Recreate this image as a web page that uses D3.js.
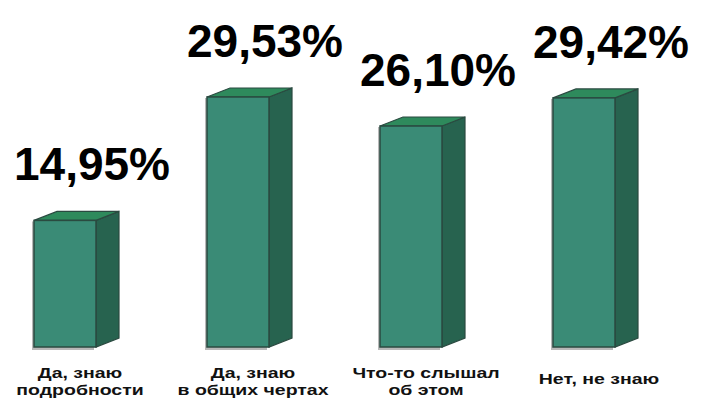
<!DOCTYPE html>
<html lang="ru">
<head>
<meta charset="UTF-8">
<title>Знаете ли вы</title>
<script src="https://d3js.org/d3.v7.min.js"></script>
<style>
  body { margin: 0; background: #fff; }
  svg { display: block; }
  .val { font-family: "Liberation Sans", Arial, sans-serif; font-weight: bold; font-size: 46px; fill: #000; }
  .cat { font-family: "Liberation Sans", Arial, sans-serif; font-weight: bold; font-size: 15px; fill: #111; }
</style>
</head>
<body>
<svg width="702" height="401"></svg>
<script>
// data
const categories = ["Да, знаю|подробности", "Да, знаю|в общих чертах", "Что-то слышал|об этом", "Нет, не знаю"];
const values = [14.95, 29.53, 26.10, 29.42];
const valueLabels = ["14,95%", "29,53%", "26,10%", "29,42%"];

const svg = d3.select("svg");
const barW = 62, dx = 23, dy = 9;

const x = d3.scalePoint().domain(categories).range([65, 584]);
const y = d3.scaleLinear().domain([0, 30]).range([347, 93]);

const data = categories.map((c, i) => ({ cat: c, v: values[i], label: valueLabels[i] }));

const g = svg.append("g");

data.forEach(d => {
  const x0 = x(d.cat) - barW / 2, x1 = x0 + barW;
  const yt = y(d.v), yb = y(0);
  const bar = g.append("g");
  // soft grey shadow
  bar.append("rect").attr("x", x0 - 2).attr("y", yt + 1).attr("width", barW).attr("height", yb - yt + 2)
    .attr("fill", "#b8b8b8");
  // side face
  bar.append("path")
    .attr("d", `M${x1},${yt}L${x1 + dx},${yt - dy}L${x1 + dx},${yb - dy}L${x1},${yb}Z`)
    .attr("fill", "#27634f").attr("stroke", "#2a4a40").attr("stroke-width", 1.2);
  // top face
  bar.append("path")
    .attr("d", `M${x0},${yt}L${x0 + dx},${yt - dy}L${x1 + dx},${yt - dy}L${x1},${yt}Z`)
    .attr("fill", "#2e8a5c").attr("stroke", "#2a4a40").attr("stroke-width", 1.2);
  // front face
  bar.append("rect").attr("x", x0).attr("y", yt).attr("width", barW).attr("height", yb - yt)
    .attr("fill", "#3a8b76").attr("stroke", "#2a4a40").attr("stroke-width", 1.5);

  g.append("text").attr("class", "val")
    .attr("x", x(d.cat) + 27).attr("y", yt - 40)
    .attr("text-anchor", "middle").text(d.label);

  const lines = d.cat.split("|");
  const base = lines.length > 1 ? 378 : 384;
  lines.forEach((ln, j) => {
    g.append("text").attr("class", "cat")
      .attr("text-anchor", "middle")
      .attr("transform", `translate(${x(d.cat) + 15},${base + j * 17}) scale(1.3,1)`)
      .text(ln);
  });
});
</script>
</body>
</html>
